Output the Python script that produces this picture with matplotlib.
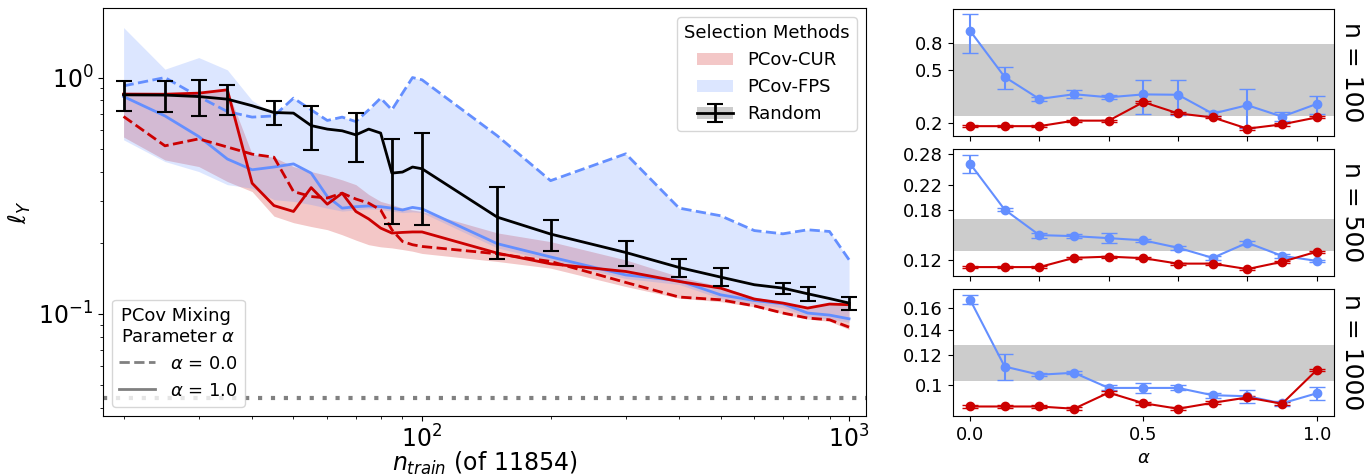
import matplotlib
matplotlib.use('Agg')
import matplotlib.pyplot as plt
import numpy as np
from matplotlib.patches import Patch
from matplotlib.lines import Line2D
from matplotlib.legend_handler import HandlerTuple
from matplotlib.ticker import NullLocator

RED = '#cc0000'
BLUE = '#648fff'

# main panel: loss vs number of training points
n_train = [20, 25, 30, 35, 40, 45, 50, 55, 60, 65, 70, 75, 80, 85, 90, 95, 100,
           150, 200, 300, 400, 500, 600, 700, 800, 900, 1000]

random_mean = [0.845, 0.843, 0.831, 0.81, 0.76, 0.711, 0.707, 0.626, 0.605, 0.595,
               0.572, 0.605, 0.582, 0.394, 0.398, 0.418, 0.411, 0.2565, 0.2175,
               0.1817, 0.157, 0.143, 0.1327, 0.1284, 0.1215, 0.116, 0.111]
# random error bars only shown at some sizes
random_err_n = [20, 25, 30, 35, 45, 55, 70, 85, 100, 150, 200, 300, 400, 500, 700, 800, 1000]
random_err = [0.122, 0.125, 0.142, 0.117, 0.083, 0.134, 0.135, 0.154, 0.174, 0.086,
              0.033, 0.0225, 0.014, 0.0125, 0.0072, 0.008, 0.0073]

fps_a0 = [0.922, 1.0, 0.83, 0.718, 0.68, 0.688, 0.818, 0.73, 0.658, 0.68, 0.651, 0.73,
          0.818, 0.73, 0.859, 1.0, 0.978, 0.567, 0.366, 0.4755, 0.28, 0.26, 0.225,
          0.218, 0.2267, 0.223, 0.1693]
fps_a1 = [0.831, 0.688, 0.563, 0.452, 0.407, 0.418, 0.431, 0.394, 0.3135, 0.28, 0.284,
          0.286, 0.284, 0.28, 0.275, 0.282, 0.278, 0.198, 0.174, 0.146, 0.138, 0.1203,
          0.1138, 0.1102, 0.1007, 0.0987, 0.0952]
cur_a0 = [0.684, 0.514, 0.55, 0.508, 0.474, 0.46, 0.329, 0.3135, 0.309, 0.324, 0.306,
          0.294, 0.275, 0.2267, 0.2023, 0.196, 0.1927, 0.1794, 0.1665, 0.1357, 0.1177,
          0.1146, 0.108, 0.1007, 0.0959, 0.0943, 0.0878]
cur_a1 = [0.851, 0.85, 0.859, 0.887, 0.357, 0.287, 0.271, 0.342, 0.291, 0.324, 0.271,
          0.252, 0.2305, 0.2196, 0.221, 0.222, 0.222, 0.1806, 0.1627, 0.151, 0.137,
          0.1284, 0.1154, 0.111, 0.1057, 0.1099, 0.1092]

# spread over all alpha values
fps_hi = [1.628, 1.085, 1.215, 1.078, 0.80, 0.70, 0.818, 0.73, 0.66, 0.68, 0.651, 0.73,
          0.818, 0.73, 0.859, 1.0, 0.978, 0.567, 0.366, 0.4755, 0.28, 0.26, 0.225,
          0.218, 0.2267, 0.223, 0.1693]
fps_lo = [0.545, 0.441, 0.40, 0.352, 0.34, 0.304, 0.299, 0.29, 0.28, 0.272, 0.275,
          0.278, 0.276, 0.272, 0.268, 0.27, 0.268, 0.19, 0.168, 0.141, 0.133, 0.116,
          0.11, 0.106, 0.097, 0.095, 0.092]
cur_hi = [0.851, 0.85, 0.859, 0.887, 0.474, 0.46, 0.42, 0.40, 0.385, 0.369, 0.352,
          0.32, 0.299, 0.29, 0.28, 0.275, 0.271, 0.22, 0.202, 0.169, 0.1436, 0.1304,
          0.1177, 0.1117, 0.107, 0.1099, 0.1092]
cur_lo = [0.56, 0.448, 0.42, 0.363, 0.329, 0.259, 0.243, 0.234, 0.227, 0.216, 0.205,
          0.196, 0.192, 0.19, 0.187, 0.184, 0.18, 0.1665, 0.156, 0.1304, 0.1164,
          0.1125, 0.107, 0.10, 0.0949, 0.0929, 0.0858]

baseline = 0.044

# right panels: loss vs alpha
alphas = [0.0, 0.1, 0.2, 0.3, 0.4, 0.5, 0.6, 0.7, 0.8, 0.9, 1.0]
sizes = [100, 500, 1000]

fps_by_n = [
    [0.99, 0.445, 0.304, 0.33, 0.313, 0.329, 0.327, 0.236, 0.273, 0.224, 0.279],
    [0.26, 0.18, 0.1469, 0.1457, 0.1434, 0.1409, 0.1328, 0.1225, 0.1382, 0.1245, 0.1196],
    [0.169, 0.1118, 0.1063, 0.1076, 0.098, 0.098, 0.098, 0.0937, 0.0931, 0.0891, 0.0948],
]
fps_err_by_n = [
    [0.32, 0.085, 0.01, 0.022, 0.01, 0.094, 0.096, 0.01, 0.088, 0.017, 0.043],
    [0.019, 0.002, 0.003, 0.002, 0.006, 0.002, 0.002, 0.002, 0.002, 0.002, 0.001],
    [0.005, 0.009, 0.001, 0.001, 0.0015, 0.003, 0.0015, 0.0015, 0.0036, 0.0012, 0.004],
]
cur_by_n = [
    [0.19, 0.19, 0.19, 0.209, 0.209, 0.288, 0.237, 0.221, 0.182, 0.196, 0.221],
    [0.1138, 0.1138, 0.1138, 0.1225, 0.1237, 0.1222, 0.117, 0.117, 0.112, 0.1187, 0.1287],
    [0.0874, 0.0874, 0.0874, 0.0862, 0.0952, 0.0892, 0.0862, 0.0894, 0.0924, 0.0889, 0.1094],
]
cur_err_by_n = [0.004, 0.001, 0.0008]
random_band = [(0.226, 0.79), (0.1294, 0.1667), (0.102, 0.1277)]
yticks_by_n = [[0.2, 0.5, 0.8], [0.12, 0.18, 0.22, 0.28], [0.1, 0.12, 0.14, 0.16]]
ytick_labels_by_n = [['0.2', '0.5', '0.8'], ['0.12', '0.18', '0.22', '0.28'],
                     ['0.1', '0.12', '0.14', '0.16']]


fig = plt.figure(figsize=(13.66, 4.76), dpi=100)

ax = fig.add_axes([0.0754, 0.126, 0.5586, 0.8572])
ax.fill_between(n_train, cur_lo, cur_hi, color=RED, alpha=0.22, lw=0)
ax.fill_between(n_train, fps_lo, fps_hi, color=BLUE, alpha=0.22, lw=0)
ax.plot(n_train, fps_a0, '--', color=BLUE, lw=2)
ax.plot(n_train, fps_a1, '-', color=BLUE, lw=2)
ax.plot(n_train, cur_a0, '--', color=RED, lw=2)
ax.plot(n_train, cur_a1, '-', color=RED, lw=2)
ax.plot(n_train, random_mean, '-', color='k', lw=2)
idx = [n_train.index(v) for v in random_err_n]
eb = ax.errorbar(random_err_n, np.array(random_mean)[idx], yerr=random_err, fmt='none',
                 ecolor='k', elinewidth=2, capsize=6, capthick=1.5)
ax.axhline(baseline, color='gray', ls=(0, (1, 2.1)), lw=3)

ax.set_xscale('log')
ax.set_yscale('log')
ax.set_xlim(17.9, 1096)
ax.set_ylim(0.0369, 1.97)
ax.tick_params(labelsize=17)
ax.set_xlabel(r'$n_{train}$ (of 11854)', fontsize=17, labelpad=-2)
ax.set_ylabel(r'$\ell_Y$', fontsize=17)

h_cur = Patch(facecolor=RED, alpha=0.22)
h_fps = Patch(facecolor=BLUE, alpha=0.22)
h_rand = (Patch(facecolor='gray', alpha=0.4), Line2D([], [], color='k', lw=2), eb)
leg1 = ax.legend([h_cur, h_fps, h_rand], ['PCov-CUR', 'PCov-FPS', 'Random'],
                 handler_map={tuple: HandlerTuple(ndivide=1)},
                 title='Selection Methods', loc='upper right', fontsize=13,
                 title_fontsize=13)
ax.add_artist(leg1)
mix_handles = [Line2D([], [], color='gray', ls='--', lw=2),
               Line2D([], [], color='gray', ls='-', lw=2)]
ax.legend(mix_handles, [r'$\alpha$ = 0.0', r'$\alpha$ = 1.0'],
          title='PCov Mixing\nParameter $\\alpha$', loc='lower left', fontsize=13,
          title_fontsize=13)

# right column
bottoms = [0.7149, 0.4202, 0.126]
for i, n in enumerate(sizes):
    a = fig.add_axes([0.6974, bottoms[i], 0.2792, 0.2668])
    a.axhspan(random_band[i][0], random_band[i][1], color='gray', alpha=0.4, lw=0)
    a.errorbar(alphas, fps_by_n[i], yerr=fps_err_by_n[i], color=BLUE, marker='o',
               ms=6, lw=1.5, capsize=6)
    a.errorbar(alphas, cur_by_n[i], yerr=cur_err_by_n[i], color=RED, marker='o',
               ms=6, lw=1.5, capsize=6)
    a.set_yscale('log')
    a.set_yticks(yticks_by_n[i], ytick_labels_by_n[i])
    a.yaxis.set_minor_locator(NullLocator())
    a.set_xlim(-0.05, 1.05)
    a.tick_params(labelsize=13)
    if i < 2:
        a.set_xticks([0.0, 0.2, 0.4, 0.6, 0.8, 1.0])
        a.set_xticklabels([])
    else:
        a.set_xticks([0.0, 0.5, 1.0])
        a.set_xlabel(r'$\alpha$', fontsize=13)
    a.text(1.0464, 0.5, 'n = %d' % n, rotation=-90, va='center', ha='center',
           transform=a.transAxes, fontsize=18)

fig.savefig('out.png', dpi=100)
